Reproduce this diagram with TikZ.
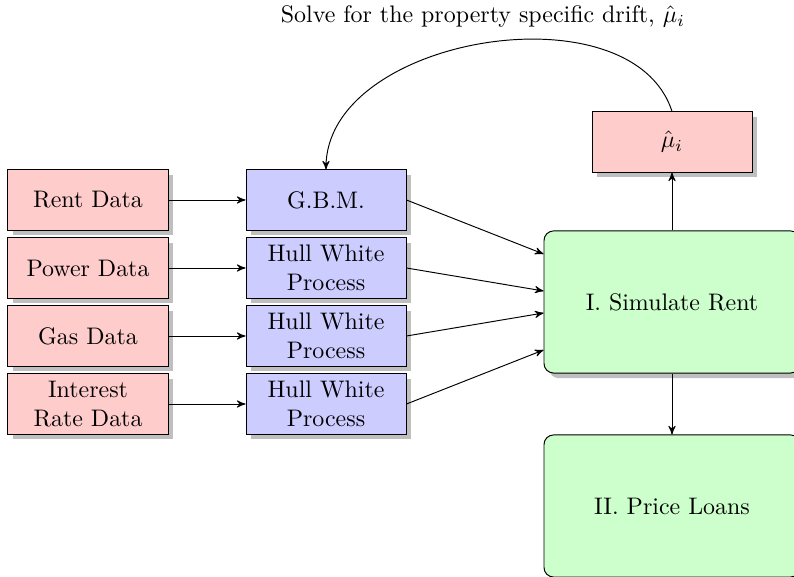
\documentclass[tikz,border=0pt]{standalone}
\usetikzlibrary{shadows,arrows,calc}
\begin{document}
\begin{tikzpicture}[x=0.418pt,y=-0.418pt,>=stealth',
  databox/.style={draw,fill=red!20,drop shadow,minimum width=66.9pt,minimum height=25.1pt,inner sep=2pt,align=center},
  procbox/.style={draw,fill=blue!20,drop shadow,minimum width=66.9pt,minimum height=25.1pt,inner sep=2pt,align=center},
  stagebox/.style={draw,fill=green!20,drop shadow,rounded corners=4pt,minimum width=107pt,minimum height=59.4pt,align=center},
  flow/.style={->,thin}]
\clip (0,0) rectangle (794,577);

% input data
\node[databox] (rent)  at (88,200) {Rent Data};
\node[databox] (power) at (88,268) {Power Data};
\node[databox] (gas)   at (88,336) {Gas Data};
\node[databox] (rate)  at (88,404) {Interest\\Rate Data};

% stochastic processes
\node[procbox] (gbm) at (326,200) {G.B.M.};
\node[procbox] (hw1) at (326,268) {Hull White\\Process};
\node[procbox] (hw2) at (326,336) {Hull White\\Process};
\node[procbox] (hw3) at (326,404) {Hull White\\Process};

% stages
\node[stagebox] (sim)   at (672,302) {I. Simulate Rent};
\node[stagebox] (price) at (672,506) {II. Price Loans};
\node[databox]  (mu)    at (672,142) {$\hat{\mu}_i$};

\node[inner sep=1pt] (lbl) at (483,17) {Solve for the property specific drift, $\hat{\mu}_i$};

\draw[flow] (rent) -- (gbm);
\draw[flow] (power) -- (hw1);
\draw[flow] (gas) -- (hw2);
\draw[flow] (rate) -- (hw3);

\draw[flow] (gbm.east) -- ($(sim.west)+(0,-48)$);
\draw[flow] (hw1.east) -- ($(sim.west)+(0,-11)$);
\draw[flow] (hw2.east) -- ($(sim.west)+(0,11)$);
\draw[flow] (hw3.east) -- ($(sim.west)+(0,48)$);

\draw[flow] (sim) -- (mu);
\draw[flow] (sim) -- (price);

% feedback of the solved drift into the G.B.M.
\draw[flow] (mu.north) .. controls (632,-14) and (326,36) .. (gbm.north);
\end{tikzpicture}
\end{document}
